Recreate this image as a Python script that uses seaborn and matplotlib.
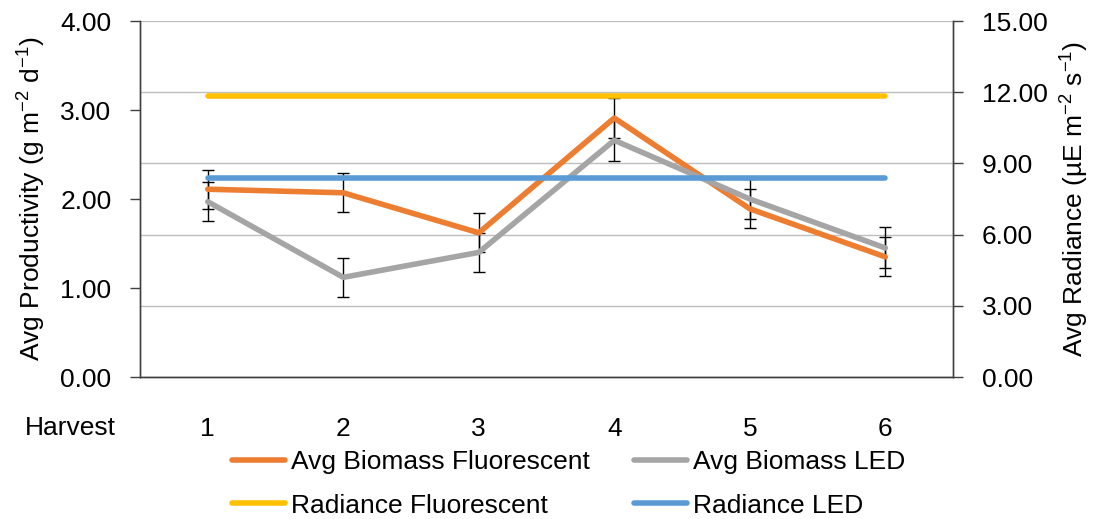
import matplotlib
matplotlib.use('Agg')
import matplotlib.pyplot as plt
from matplotlib.lines import Line2D
from matplotlib.ticker import FixedLocator, FormatStrFormatter
import seaborn as sns
import pandas as pd

harvest = [1, 2, 3, 4, 5, 6]
biomass_fluor = [2.11, 2.07, 1.62, 2.91, 1.89, 1.35]
biomass_led = [1.97, 1.12, 1.40, 2.66, 2.00, 1.45]
err_fluor = [0.22, 0.22, 0.22, 0.22, 0.22, 0.22]
err_led = [0.22, 0.22, 0.22, 0.23, 0.22, 0.23]
radiance_fluor = [11.85] * 6
radiance_led = [8.40] * 6

C_FLUOR = '#ED7D31'
C_LED = '#A5A5A5'
C_RFLUOR = '#FFC000'
C_RLED = '#5B9BD5'

sns.set_style('white')
plt.rcParams['font.family'] = ['Liberation Sans', 'DejaVu Sans']
plt.rcParams['mathtext.fontset'] = 'custom'
plt.rcParams['mathtext.rm'] = 'Liberation Sans'
plt.rcParams['mathtext.it'] = 'Liberation Sans'
plt.rcParams['text.color'] = 'black'
plt.rcParams['axes.labelcolor'] = 'black'
plt.rcParams['xtick.color'] = 'black'
plt.rcParams['ytick.color'] = 'black'
FS = 19

df = pd.DataFrame({'harvest': harvest, 'fluor': biomass_fluor, 'led': biomass_led,
                   'rfluor': radiance_fluor, 'rled': radiance_led})

fig = plt.figure(figsize=(10.99, 5.19), dpi=100)
ax = fig.add_axes([0.1274, 0.2736, 0.7398, 0.6859])
ax2 = ax.twinx()

# gridlines belong to the right axis
ax2.set_ylim(0, 15)
ax2.yaxis.set_major_locator(FixedLocator([0, 3, 6, 9, 12, 15]))
ax2.yaxis.set_major_formatter(FormatStrFormatter('%.2f'))
ax2.grid(True, axis='y', color='#BFBFBF', linewidth=1)
ax2.set_zorder(0)
ax.set_zorder(1)
ax.patch.set_visible(False)

lw = 4
ax.errorbar(df['harvest'], df['fluor'], yerr=err_fluor, fmt='none', ecolor='black',
            elinewidth=1, capsize=4, capthick=1, zorder=1)
ax.errorbar(df['harvest'], df['led'], yerr=err_led, fmt='none', ecolor='black',
            elinewidth=1, capsize=4, capthick=1, zorder=1)
sns.lineplot(data=df, x='harvest', y='fluor', color=C_FLUOR, linewidth=lw, ax=ax,
             legend=False, zorder=2, solid_capstyle='round')
sns.lineplot(data=df, x='harvest', y='led', color=C_LED, linewidth=lw, ax=ax,
             legend=False, zorder=2, solid_capstyle='round')
sns.lineplot(data=df, x='harvest', y='rfluor', color=C_RFLUOR, linewidth=lw, ax=ax,
             legend=False, zorder=3, solid_capstyle='round',
             transform=ax2.transData)
sns.lineplot(data=df, x='harvest', y='rled', color=C_RLED, linewidth=lw, ax=ax,
             legend=False, zorder=3, solid_capstyle='round',
             transform=ax2.transData)

ax.set_xlim(0.5, 6.5)
ax.set_ylim(0, 4)
ax.set_yticks([0, 1, 2, 3, 4])
ax.yaxis.set_major_formatter(FormatStrFormatter('%.2f'))
ax.set_xticks(harvest)
ax.set_xticks([0.5, 1.5, 2.5, 3.5, 4.5, 5.5, 6.5], minor=True)
ax.tick_params(axis='x', which='major', length=0, pad=29, labelsize=FS)
ax.tick_params(axis='x', which='minor', length=7, width=1, direction='out', color='#404040')
ax.tick_params(axis='y', length=7, width=1, direction='out', color='#404040', labelsize=FS, pad=13.5)
ax2.tick_params(axis='y', length=7, width=1, direction='out', color='#404040', labelsize=FS, pad=13.5)
ax.set_xlabel('')
ax.set_ylabel(r'Avg Productivity (g m$^{\mathregular{-2}}$ d$^{\mathregular{-1}}$)', fontsize=FS, labelpad=8.5)
ax2.set_ylabel(r'Avg Radiance (µE m$^{\mathregular{-2}}$ s$^{\mathregular{-1}}$)', fontsize=FS, labelpad=8)

for a in (ax, ax2):
    a.spines['top'].set_visible(False)
    for s in ('left', 'right', 'bottom'):
        a.spines[s].set_color('#404040')
        a.spines[s].set_linewidth(1)

fig.text(25 / 1099, 1 - 428 / 519, 'Harvest', fontsize=FS, ha='left', va='center')

handles = [
    Line2D([], [], color=C_FLUOR, linewidth=lw),
    Line2D([], [], color=C_RFLUOR, linewidth=lw),
    Line2D([], [], color=C_LED, linewidth=lw),
    Line2D([], [], color=C_RLED, linewidth=lw),
]
labels = ['Avg Biomass Fluorescent', 'Radiance Fluorescent', 'Avg Biomass LED', 'Radiance LED']
fig.legend(handles, labels, ncol=2, loc='upper left', bbox_to_anchor=(232 / 1099, 1 - 450 / 519),
           frameon=False, fontsize=FS, borderpad=0, borderaxespad=0, handlelength=2.0,
           handletextpad=0.23, columnspacing=1.67, labelspacing=0.74)

fig.savefig('out.png', dpi=100)
